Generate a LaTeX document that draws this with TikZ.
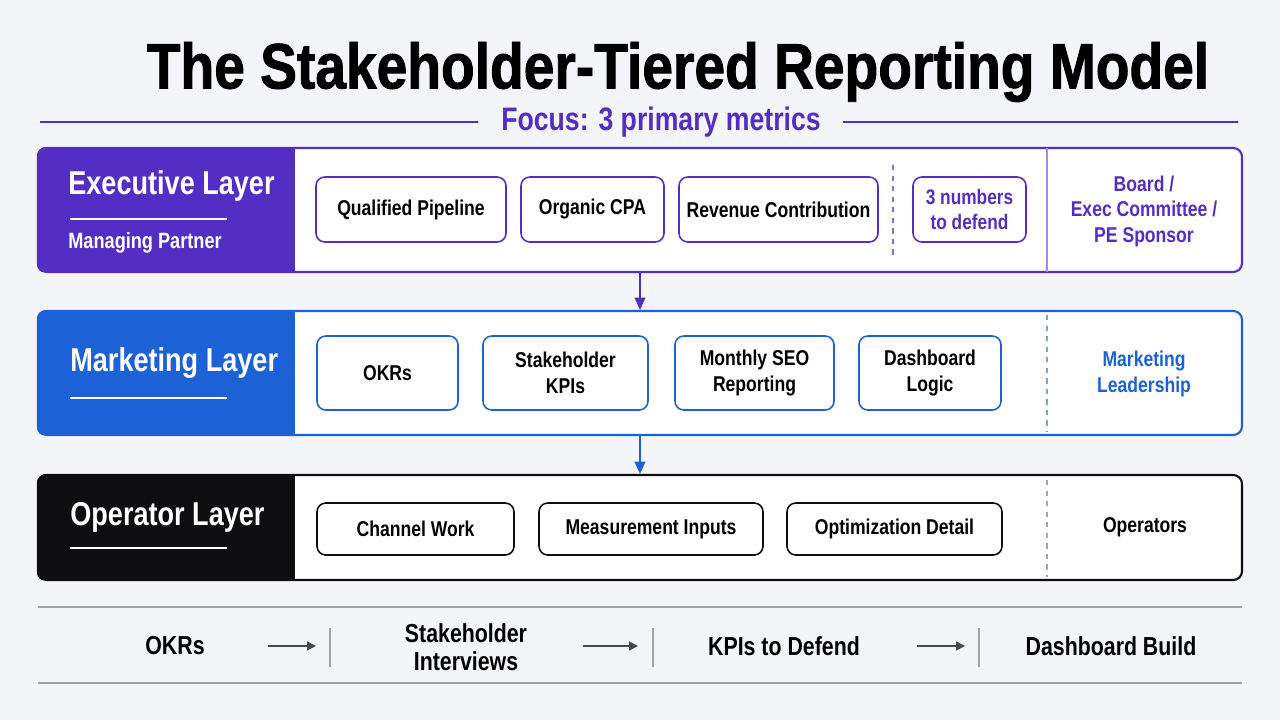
\documentclass[tikz,border=0pt]{standalone}
\usepackage{fontspec}
\setmainfont{Liberation Sans}[FakeStretch=0.82]
\newfontfamily\titlefont{Liberation Sans}[FakeStretch=0.86, BoldFeatures={FakeBold=1.4}]
\usetikzlibrary{arrows.meta,positioning}

\definecolor{bgpaper}{RGB}{244,245,248}
\definecolor{execpurple}{RGB}{84,46,196}
\definecolor{mktblue}{RGB}{28,98,214}
\definecolor{opblack}{RGB}{14,14,16}
\definecolor{rulegray}{RGB}{160,162,166}
\definecolor{arrowgray}{RGB}{70,72,76}

\newcommand{\pxu}{0.02cm}

\begin{document}
\begin{tikzpicture}[
  x=0.02cm, y=-0.02cm,
  layer/.style={draw=#1, line width=1.2pt, rounded corners=5pt, fill=white,
    minimum width=1204*\pxu, inner sep=0pt},
  metric/.style={draw=#1, line width=0.9pt, rounded corners=5pt, fill=white,
    align=center, inner sep=0pt, text=black,
    font=\fontsize{12.2}{15}\selectfont\bfseries},
  laytitle/.style={anchor=west, text=white, inner sep=0pt,
    font=\fontsize{18.8}{20}\selectfont\bfseries},
  laysub/.style={anchor=west, text=white, inner sep=0pt,
    font=\fontsize{12.6}{14}\selectfont\bfseries},
  owner/.style={align=center, inner sep=0pt,
    font=\fontsize{12.2}{14.5}\selectfont\bfseries},
  flowtext/.style={align=center, inner sep=0pt,
    font=\fontsize{14.8}{16}\selectfont\bfseries},
  flow/.style={-{Triangle[length=5pt,width=5pt]}, arrowgray, line width=0.9pt},
  down/.style={-{Triangle[length=7pt,width=6pt]}, line width=1.2pt, draw=#1}
]
  \useasboundingbox[fill=bgpaper] (0,0) rectangle (1280,720);

  % Title
  \node[font=\fontsize{36.5}{40}\titlefont\bfseries, inner sep=0pt] (title) at (678,72)
    {The Stakeholder-Tiered Reporting Model};
  \node[text=execpurple, font=\fontsize{18.5}{20}\selectfont\bfseries, inner sep=0pt]
    (focus) at (661,122) {Focus: 3 primary metrics};
  \draw[execpurple, line width=0.9pt] (40,122) -- (478,122);
  \draw[execpurple, line width=0.9pt] (843,122) -- (1238,122);

  % Executive layer
  \node[layer=execpurple, minimum height=124*\pxu] (exec) at (640,210) {};
  \begin{scope}
    \clip[rounded corners=5pt] (exec.north west) rectangle (exec.south east);
    \fill[execpurple] (exec.north west) rectangle (295,272);
  \end{scope}
  \node[laytitle] (exect) at (68,186) {Executive Layer};
  \draw[white, line width=1.4pt] (70,219) -- (227,219);
  \node[laysub] (execs) at (68,243) {Managing Partner};

  \node[metric=execpurple, minimum width=190*\pxu, minimum height=65*\pxu] (qp) at (411,209.5) {Qualified Pipeline};
  \node[metric=execpurple, minimum width=143*\pxu, minimum height=65*\pxu] (ocpa) at (592.5,209.5) {Organic CPA};
  \node[metric=execpurple, minimum width=199*\pxu, minimum height=65*\pxu] (rc) at (778.5,209.5) {Revenue Contribution};
  \draw[execpurple!70, dashed, line width=0.7pt] (893,165) -- (893,258);
  \node[metric=execpurple, text=execpurple, minimum width=113*\pxu, minimum height=65*\pxu,
    font=\fontsize{12}{14}\selectfont\bfseries] (three) at (969.5,209.5) {3 numbers\\to defend};
  \draw[execpurple!55, line width=0.8pt] (1047,148) -- (1047,272);
  \node[owner, text=execpurple] (board) at (1144,211) {Board /\\Exec Committee /\\PE Sponsor};

  % Marketing layer
  \node[layer=mktblue, minimum height=124*\pxu] (mkt) at (640,373) {};
  \begin{scope}
    \clip[rounded corners=5pt] (mkt.north west) rectangle (mkt.south east);
    \fill[mktblue] (mkt.north west) rectangle (295,435);
  \end{scope}
  \node[laytitle] (mktt) at (70,363) {Marketing Layer};
  \draw[white, line width=1.4pt] (70,398) -- (227,398);

  \node[metric=mktblue, minimum width=141*\pxu, minimum height=74*\pxu] (okr) at (387.5,373) {OKRs};
  \node[metric=mktblue, minimum width=165*\pxu, minimum height=74*\pxu] (skpi) at (565.5,373) {Stakeholder\\KPIs};
  \node[metric=mktblue, minimum width=159*\pxu, minimum height=74*\pxu] (mseo) at (754.5,373) {Monthly SEO\\Reporting};
  \node[metric=mktblue, minimum width=142*\pxu, minimum height=74*\pxu] (dlog) at (930,373) {Dashboard\\Logic};
  \draw[mktblue!60, dashed, line width=0.7pt] (1047,315) -- (1047,432);
  \node[owner, text=mktblue] (lead) at (1144,374) {Marketing\\Leadership};

  % Operator layer
  \node[layer=opblack, minimum height=105*\pxu] (op) at (640,527.5) {};
  \begin{scope}
    \clip[rounded corners=5pt] (op.north west) rectangle (op.south east);
    \fill[opblack] (op.north west) rectangle (295,580);
  \end{scope}
  \node[laytitle] (opt) at (70,517) {Operator Layer};
  \draw[white, line width=1.4pt] (70,548) -- (227,548);

  \node[metric=opblack, minimum width=197*\pxu, minimum height=52*\pxu] (cw) at (415.5,529) {Channel Work};
  \node[metric=opblack, minimum width=224*\pxu, minimum height=52*\pxu] (mi) at (651,529) {Measurement Inputs};
  \node[metric=opblack, minimum width=215*\pxu, minimum height=52*\pxu] (od) at (894.5,529) {Optimization Detail};
  \draw[gray!70, dashed, line width=0.6pt] (1047,480) -- (1047,577);
  \node[owner, text=black] (opers) at (1145,527) {Operators};

  % Layer arrows
  \draw[down=execpurple] (exec.south) -- (mkt.north);
  \draw[down=mktblue] (mkt.south) -- (op.north);

  % Build sequence
  \draw[rulegray, line width=0.8pt] (38,607) -- (1242,607);
  \draw[rulegray, line width=0.8pt] (38,683) -- (1242,683);

  \node[flowtext] (s1) at (175,646) {OKRs};
  \node[flowtext] (s2) at (466,647) {Stakeholder\\Interviews};
  \node[flowtext] (s3) at (784,646) {KPIs to Defend};
  \node[flowtext] (s4) at (1111,646) {Dashboard Build};

  \coordinate (a1s) at (268,646); \coordinate (a1e) at (316,646);
  \coordinate (a2s) at (583,646); \coordinate (a2e) at (638,646);
  \coordinate (a3s) at (917,646); \coordinate (a3e) at (965,646);
  \draw[flow] (a1s) -- (a1e);
  \draw[flow] (a2s) -- (a2e);
  \draw[flow] (a3s) -- (a3e);

  \foreach \sx in {330,653,979}
    \draw[rulegray, line width=0.8pt] (\sx,628) -- (\sx,667);
\end{tikzpicture}
\end{document}
